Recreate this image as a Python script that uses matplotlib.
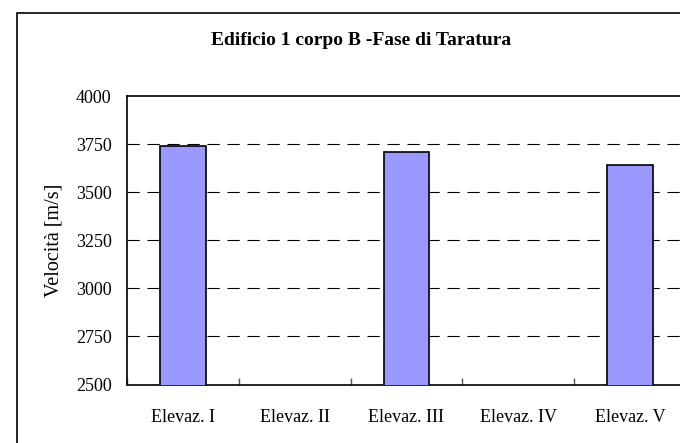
import numpy as np
import matplotlib
matplotlib.use("Agg")
import matplotlib.pyplot as plt
from matplotlib.patches import Rectangle

# velocità misurate per elevazione (II e IV senza misura)
categorie = ["Elevaz. I", "Elevaz. II", "Elevaz. III", "Elevaz. IV", "Elevaz. V"]
velocita = [3740, np.nan, 3710, np.nan, 3643]
yticks = [2500, 2750, 3000, 3250, 3500, 3750, 4000]

plt.rcParams['font.family'] = ['Liberation Serif', 'DejaVu Serif']

fig = plt.figure(figsize=(6.8, 4.43), dpi=100)

# cornice esterna del grafico
fig.patches.append(Rectangle((17/680, -0.1), 1.2, 1 - 13/443 + 0.1, transform=fig.transFigure,
                             fill=False, edgecolor='black', linewidth=1.2))

ax = fig.add_axes([127/680, 1 - 384.5/443, 559/680, 288.5/443])

x = np.arange(len(categorie))
ax.bar(x, velocita, width=0.41, bottom=0, color='#9999FF', edgecolor='black', linewidth=1.2, zorder=3)

ax.set_xlim(-0.5, len(categorie) - 0.5)
ax.set_ylim(2500, 4000)
ax.set_yticks(yticks)
ax.set_yticklabels([str(v) for v in yticks], fontsize=13)
ax.tick_params(axis='y', length=0, pad=11)

ax.set_xticks(x)
ax.set_xticklabels(categorie, fontsize=13)
ax.set_xticks(np.arange(len(categorie) + 1) - 0.5, minor=True)
ax.tick_params(axis='x', which='major', length=0, pad=18)
ax.tick_params(axis='x', which='minor', direction='in', length=5, width=1, color='#555555')

for v in yticks[1:-1]:
    ax.axhline(v, color='black', linewidth=0.8, linestyle=(0, (11, 7)), zorder=1)

for s in ax.spines.values():
    s.set_linewidth(1.2)

ax.set_ylabel("Velocità [m/s]", fontsize=14.5, labelpad=9)

fig.text(361/680, 1 - 45/443, "Edificio 1 corpo B -Fase di Taratura", ha='center', va='baseline',
         fontsize=14, fontweight='bold')

fig.savefig("out.png", dpi=100)
